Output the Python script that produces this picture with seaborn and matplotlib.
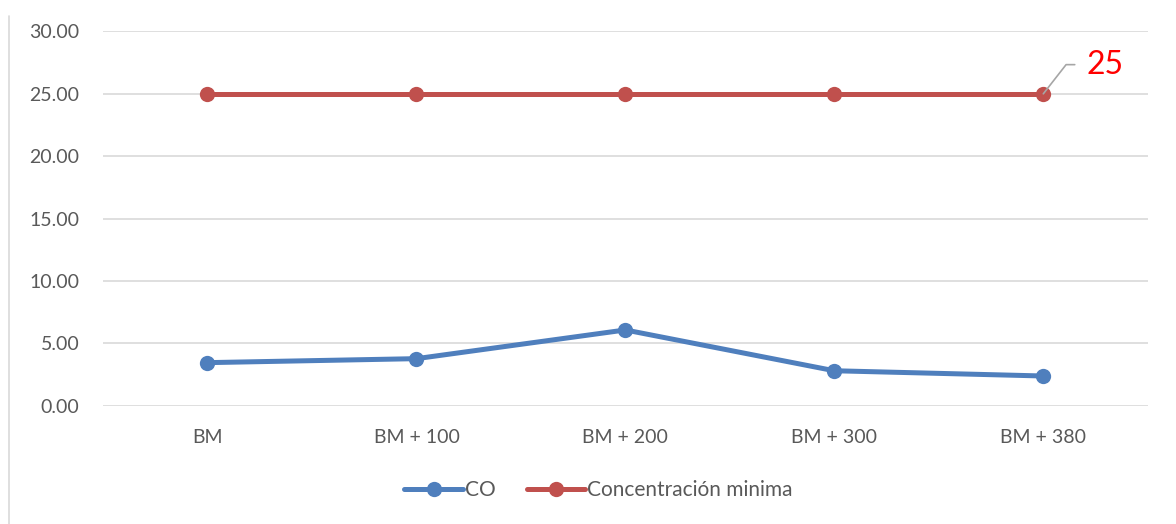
import matplotlib
matplotlib.use("Agg")
import matplotlib.pyplot as plt
import seaborn as sns
import pandas as pd
from matplotlib.lines import Line2D

categories = ["BM", "BM + 100", "BM + 200", "BM + 300", "BM + 380"]
co_values = [3.45, 3.77, 6.07, 2.80, 2.38]
min_values = [25, 25, 25, 25, 25]
series_names = ["CO", "Concentración minima"]
colors = ["#4F7FBD", "#C0504D"]
yticks = [0, 5, 10, 15, 20, 25, 30]

sns.set_theme(style="white")
plt.rcParams['font.family'] = ['Lato', 'DejaVu Sans']

df = pd.DataFrame({
    "x": list(range(len(categories))) * 2,
    "value": co_values + min_values,
    "series": [series_names[0]] * len(categories) + [series_names[1]] * len(categories),
})

fig = plt.figure(figsize=(11.76, 5.24), dpi=100)
ax = fig.add_axes([0.0876, 0.2258, 0.976 - 0.0876, 0.940 - 0.2258])

sns.lineplot(data=df, x="x", y="value", hue="series", palette=colors,
             marker="o", markersize=11, markeredgewidth=0, linewidth=3.6,
             ax=ax, legend=False, zorder=3)

ax.set_xlim(-0.5, len(categories) - 0.5)
ax.set_ylim(0, 30)
ax.set_yticks(yticks)
ax.set_yticklabels([f"{v:.2f}" for v in yticks])
ax.set_xticks(range(len(categories)))
ax.set_xticklabels(categories)
ax.tick_params(axis="both", length=0, labelsize=14, labelcolor="#595959")
ax.tick_params(axis="y", pad=17)
ax.tick_params(axis="x", pad=17)
ax.grid(axis="y", color="#D9D9D9", linewidth=1.2)
ax.set_axisbelow(True)
for s in ax.spines.values():
    s.set_visible(False)
ax.set_xlabel("")
ax.set_ylabel("")

# data label
last = len(categories) - 1
ax.annotate(str(min_values[last]), xy=(last, min_values[last]),
            xytext=(31, 21), textcoords="offset points",
            color="red", fontsize=23, va="center", ha="left",
            arrowprops=dict(arrowstyle="-", color="#A6A6A6", lw=1.2,
                            connectionstyle="angle,angleA=0,angleB=52,rad=0",
                            shrinkA=6, shrinkB=0),
            annotation_clip=False)

handles = [Line2D([0], [0], color=c, lw=3.6, marker="o", markersize=11,
                  markeredgewidth=0) for c in colors]
fig.legend(handles, series_names, loc="center", bbox_to_anchor=(0.509, 0.065),
           ncol=2, frameon=False, fontsize=15, labelcolor="#595959",
           handlelength=2.8, handletextpad=0.1, columnspacing=1.5)

fig.add_artist(Line2D([0.008, 0.008], [0.0, 0.97], color="#D9D9D9", lw=1.2,
                      transform=fig.transFigure))

fig.savefig("out.png", dpi=100)
